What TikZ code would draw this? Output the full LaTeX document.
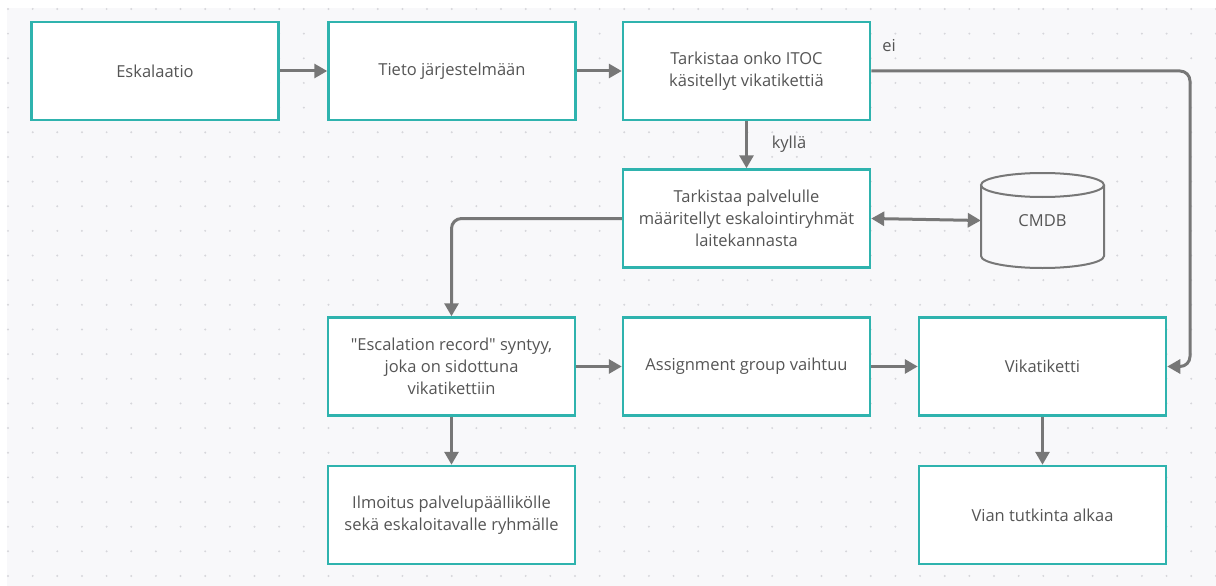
\documentclass[tikz,border=0pt]{standalone}
\usepackage{fontspec}
\setmainfont{Open Sans}[Ligatures=TeXOff]
\usetikzlibrary{arrows.meta}
\definecolor{canvas}{HTML}{F8F8FA}
\definecolor{griddot}{HTML}{D6D6DB}
\definecolor{boxline}{HTML}{2FB3AE}
\definecolor{flowc}{HTML}{777777}
\definecolor{ink}{HTML}{555555}
\begin{document}
\begin{tikzpicture}[x=1pt,y=-1pt,
  stepbox/.style={draw=boxline, line width=2.5pt, fill=white,
    minimum width=247pt, minimum height=98pt, inner sep=0pt,
    align=center, text=ink, font=\fontsize{16.5}{22}\selectfont},
  flow/.style={draw=flowc, line width=3pt, rounded corners=10pt,
    -{Triangle[length=13pt,width=14pt]}},
  flowboth/.style={flow, {Triangle[length=13pt,width=14pt]}-{Triangle[length=13pt,width=14pt]}},
  cyl/.style={draw=flowc, line width=2pt, fill=canvas},
  tag/.style={text=ink, font=\fontsize{16.5}{19}\selectfont, inner sep=0pt}]
\useasboundingbox (0,0) rectangle (1216,586);
% canvas with dot grid
\fill[white] (0,0) rectangle (1216,586);
\fill[canvas] (7,8) rectangle (1216,586);
\foreach \i in {0,...,49}
  \foreach \j in {0,...,23}
    \fill[griddot] (8+\i*24.65, 9+\j*24.65) circle (1.1pt);

% process boxes
\node[stepbox] (esk)    at (155,71)     {Eskalaatio};
\node[stepbox] (tieto)  at (452,71)     {Tieto järjestelmään};
\node[stepbox] (itoc)   at (746.5,71)   {Tarkistaa onko ITOC\\käsitellyt vikatikettiä};
\node[stepbox] (palv)   at (746.5,218.5){Tarkistaa palvelulle\\määritellyt eskalointiryhmät\\laitekannasta};
\node[stepbox] (esc)    at (451.5,366.5){"Escalation record" syntyy,\\joka on sidottuna\\vikatikettiin};
\node[stepbox] (ilm)    at (451.5,515)  {Ilmoitus palvelupäällikölle\\sekä eskaloitavalle ryhmälle};
\node[stepbox] (assign) at (746.5,366.5){Assignment group vaihtuu};
\node[stepbox] (vika)   at (1042.5,366.5){Vikatiketti};
\node[stepbox] (vian)   at (1042.5,515) {Vian tutkinta alkaa};

% CMDB database cylinder
\draw[cyl] (981,185) -- (981,256)
  arc[start angle=180, end angle=0, x radius=61.5, y radius=12] -- (1104,185);
\draw[cyl] (1042.5,185) ellipse[x radius=61.5, y radius=12];
\node[minimum width=123pt, minimum height=95pt, inner sep=0pt,
  text=ink, font=\fontsize{16.5}{19}\selectfont] (cmdb) at (1042.5,220.5) {\raisebox{-5pt}{CMDB}};

% connectors
\coordinate (eiturn) at (1190,71);
\draw[flow] (esk) -- (tieto);
\draw[flow] (tieto) -- (itoc);
\draw[flow] (itoc.east) -- (eiturn) |- (vika.east);
\draw[flow] (itoc) -- (palv);
\draw[flowboth] (palv.east) -- (cmdb.west);
\draw[flow] (palv.west) -| (esc.north);
\draw[flow] (esc) -- (assign);
\draw[flow] (assign) -- (vika);
\draw[flow] (esc) -- (ilm);
\draw[flow] (vika) -- (vian);

% branch labels
\node[tag] (ei)    at (889,46)  {ei};
\node[tag] (kylla) at (789,144) {kyllä};
\end{tikzpicture}
\end{document}
